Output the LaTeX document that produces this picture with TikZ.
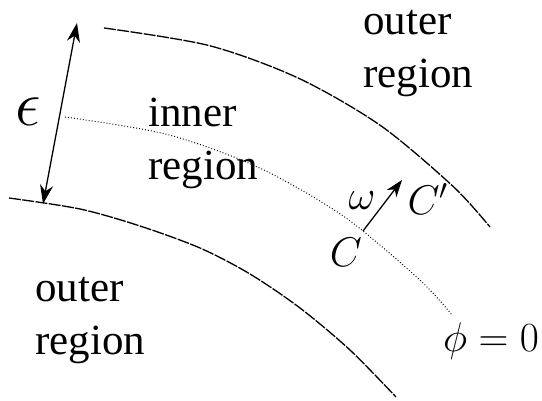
\documentclass[tikz,border=0pt]{standalone}
\usepackage[no-math]{fontspec}
\setmainfont{Liberation Serif}
\usetikzlibrary{arrows.meta}

\begin{document}
\begin{tikzpicture}[
    x=0.5pt, y=-0.5pt,
    lbl/.style={inner sep=0pt, align=left, anchor=base west,
      font=\fontsize{21.5}{26.5}\selectfont},
    sym/.style={inner sep=0pt, font=\fontsize{21}{26.5}\selectfont},
    boundary/.style={line width=0.65pt, dash pattern=on 6pt off 0.7pt},
    midline/.style={line width=0.5pt, dash pattern=on 0.45pt off 1.05pt},
    arrow/.style={line width=0.65pt, -{Stealth[length=8.5pt,width=6pt,inset=2.5pt]}},
    dimarrow/.style={line width=0.65pt,
      {Stealth[length=9.5pt,width=6.5pt,inset=3pt]}-{Stealth[length=9.5pt,width=6.5pt,inset=3pt]}}
]
\useasboundingbox (0,0) rectangle (542,401);

\draw[boundary] plot[smooth] coordinates {(104,28) (208.8,45.5) (298.1,78) (380.5,125.5) (453.3,186.6) (490,227)};
\draw[midline] plot[smooth] coordinates {(65,117) (167.5,134.5) (259.8,168.1) (344.9,217.2) (420.2,280.4) (452,315)};
\draw[boundary] plot[smooth] coordinates {(9,198) (80,209) (140,226) (200,248) (250,274) (300,308) (350,350) (396,397)};

\node (outerA) [lbl] at (363,88) {outer\\region};
\node (inner) [lbl] at (148,180) {inner\\region};
\node (outerB) [lbl] at (35,355) {outer\\region};

\coordinate (epstop) at (77,23);
\coordinate (epsbot) at (43,204);
\draw[dimarrow] (epsbot) -- (epstop);
\node (eps) [sym, scale=1.55] at (28,112) {$\epsilon$};

\coordinate (Cfoot) at (363,231);
\coordinate (Ctip) at (402,180);
\draw[arrow] (Cfoot) -- (Ctip);
\node (Clab) [sym] at (346,252) {$C$};
\node (omega) [sym] at (362,201) {$\omega$};
\node (Cprime) [sym] at (428,199) {$C'$};
\node (phizero) [sym] at (491,341) {$\phi=0$};
\end{tikzpicture}
\end{document}
